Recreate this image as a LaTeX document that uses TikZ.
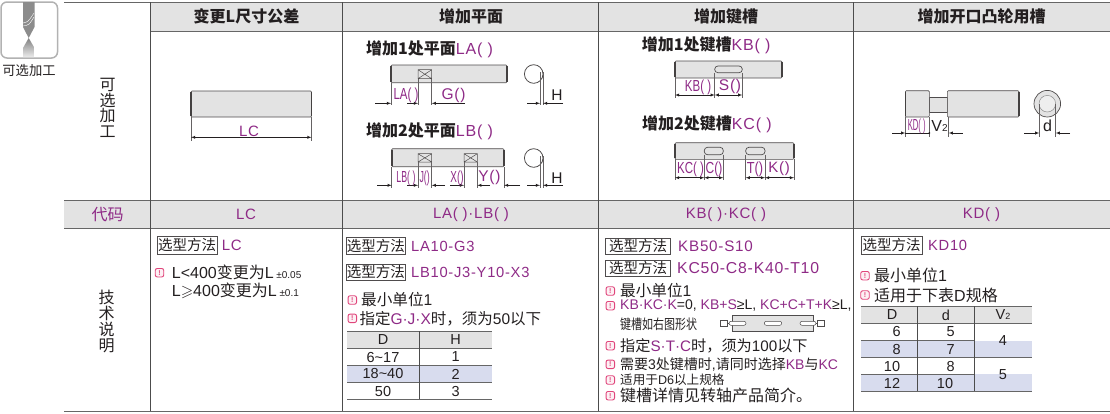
\documentclass[tikz,border=0pt]{standalone}
\usepackage{amssymb}
\usepackage{fontspec}
\setmainfont{Liberation Sans}
\newfontfamily\cjk{Noto Sans CJK SC}
\newfontfamily\latn[LetterSpace=5]{Liberation Sans}
\definecolor{ink}{HTML}{231F20}
\definecolor{plum}{HTML}{8E2A86}
\definecolor{band}{HTML}{E3E3E3}
\definecolor{lav}{HTML}{D8DCEE}
\definecolor{rose}{HTML}{E0457B}
\newcommand{\zh}[1]{{\cjk #1}}
\newcommand{\pl}[1]{{\color{plum}#1}}
\tikzset{
  txt/.style={inner sep=0pt,text=ink,font=\fontsize{#1}{#1}\selectfont},
  txt/.default=15,
  lft/.style={txt=#1,anchor=west},
  lft/.default=15,
  code/.style={inner sep=0pt,text=plum,font=\latn\fontsize{#1}{#1}\selectfont},
  code/.default=15,
  tight/.style={inner sep=0pt,text=plum,font=\fontsize{16}{16}\selectfont,xscale=#1},
  title/.style={inner sep=0pt,anchor=west,text=ink,font=\fontsize{16}{16}\selectfont\bfseries},
  head/.style={inner sep=0pt,text=ink,font=\cjk\fontsize{16}{16}\selectfont\bfseries},
  pickbox/.style={draw=ink!80,line width=.6pt,inner sep=0pt,anchor=west,text=ink,font=\cjk\fontsize{14.5}{14.5}\selectfont},
  notemark/.style={draw=rose,fill=rose!8,line width=.9pt,rounded corners=2pt,minimum size=8.5pt,inner sep=0pt,text=rose,font=\fontsize{7}{7}\selectfont\bfseries},
  pin/.style={draw=ink!80,fill=band,line width=.6pt},
  bar/.style={draw=ink!85,line width=1.6pt},
  ext/.style={draw=ink!70,line width=.45pt},
  dim/.style={draw=ink,line width=.45pt},
  rule/.style={draw=black!60,line width=1pt},
  vrule/.style={draw=black!70,line width=.7pt}
}
\begin{document}
\begin{tikzpicture}[x=1pt,y=-1pt,>=latex]
\useasboundingbox (0,0) rectangle (1110,413);
% icon
\draw[draw=black!30,fill=white,line width=1.5pt,rounded corners=6pt] (1,2) rectangle (57.5,58);
\fill[black!45] (23,2) -- (34.5,2) -- (34.5,27) -- (28.7,38) -- (23,27) -- cycle;
\draw[white,line width=.4pt] (23,23) .. controls (28,22) .. (34,13);
\draw[white,line width=.4pt] (23,26) .. controls (29,25) .. (34,17);
\shade[top color=black!50,bottom color=black!8] (28.7,38) -- (34.5,48) -- (34.5,57) -- (23,57) -- (23,48) -- cycle;
\node[txt=13,font=\cjk\fontsize{13.3}{13.3}\selectfont] (iconlabel) at (29,70) {可选加工};
% bands and table rules
\fill[band] (151,2) rectangle (1110,31);
\fill[band] (64,200) rectangle (1110,228.5);
\draw[rule] (64,2) -- (1110,2);
\draw[rule] (151,31) -- (1110,31);
\draw[rule] (64,200) -- (1110,200);
\draw[rule] (64,228.5) -- (1110,228.5);
\draw[rule] (64,411) -- (1110,411);
\draw[vrule] (150.5,2) -- (150.5,411);
\draw[vrule] (342,2) -- (342,411);
\draw[vrule] (598,2) -- (598,411);
\draw[vrule] (853,2) -- (853,411);
\node[head] (headLC) at (246.5,16) {变更L尺寸公差};
\node[head] (headflat) at (471,16) {增加平面};
\node[head] (headkey) at (726,16) {增加键槽};
\node[head] (headcam) at (981.5,16) {增加开口凸轮用槽};
\node[txt,font=\cjk\fontsize{16}{15.7}\selectfont,align=center] (rowopt) at (107.5,108) {可\\选\\加\\工};
\node[txt,font=\cjk\fontsize{16}{16}\selectfont,align=center] (rowtech) at (106.7,321) {技\\术\\说\\明};
\node[code=15,font=\cjk\fontsize{16}{16}\selectfont] (rowcode) at (107.5,214.5) {代码};
\node[code=15] (codeLC) at (246,214.5) {LC};
\node[code=15] (codeLA) at (471,214.5) {LA( )·LB( )};
\node[code=15] (codeKB) at (726,214.5) {KB( )·KC( )};
\node[code=15] (codeKD) at (981.5,214.5) {KD( )};
% column 1 pin
\draw[pin,rounded corners=1pt] (191,91) rectangle (311.5,117);
\draw[bar] (191,92) -- (191,116);
\draw[bar] (311.5,92) -- (311.5,116);
\draw[ext] (191,117) -- (191,141);
\draw[ext] (311.5,117) -- (311.5,141);
\draw[dim,<->] (191,137.3) -- (311.5,137.3);
\node[code=15] (dimLC) at (249,131) {LC};
% column 2, one flat
\node[title] (titleLA) at (366,49) {\zh{增加1处平面}\pl{\mdseries\latn LA( )}};
\draw[pin,rounded corners=1pt] (391,65) rectangle (507,82.7);
\draw[bar] (391,66) -- (391,82);
\draw[bar] (507,66) -- (507,82);
\draw[ink!80,fill=band,line width=.5pt] (418,69.7) rectangle (431.7,78.7) (418,69.7) -- (431.7,78.7) (418,78.7) -- (431.7,69.7);
\draw[ext] (391,83) -- (391,105);
\draw[ext] (418,79) -- (418,105);
\draw[ext] (431.7,79) -- (431.7,105);
\draw[dim,->] (375,103.3) -- (391,103.3);
\draw[dim,->] (407,103.3) -- (418,103.3);
\draw[dim,->] (465,103.3) -- (431.7,103.3);
\node[tight=.72] (dimLA) at (406,95.5) {LA( )};
\node[code=15.5] (dimG) at (453.5,95) {G()};
\draw[ink!80,line width=.8pt] (533.7,74) circle (9.3);
\draw[ext] (540,72) -- (540,105);
\draw[ext] (543,72) -- (543,105);
\draw[dim,->] (527,103.3) -- (540,103.3);
\draw[dim,->] (563,103.3) -- (543,103.3);
\node[txt=15.5] (dimH) at (557,95) {H};
% column 2, two flats
\node[title] (titleLB) at (366,131) {\zh{增加2处平面}\pl{\mdseries\latn LB( )}};
\draw[pin,rounded corners=1pt] (391.7,148.7) rectangle (504,166.7);
\draw[bar] (391.7,150) -- (391.7,166);
\draw[bar] (504,150) -- (504,166);
\draw[ink!80,fill=band,line width=.5pt] (418,153.7) rectangle (431.7,162) (418,153.7) -- (431.7,162) (418,162) -- (431.7,153.7);
\draw[ink!80,fill=band,line width=.5pt] (464,153.7) rectangle (477.3,162) (464,153.7) -- (477.3,162) (464,162) -- (477.3,153.7);
\draw[ext] (391.7,167) -- (391.7,188);
\draw[ext] (418,162) -- (418,188);
\draw[ext] (431.7,162) -- (431.7,188);
\draw[ext] (464,162) -- (464,188);
\draw[ext] (477.3,162) -- (477.3,188);
\draw[ext] (504,167) -- (504,188);
\draw[dim,->] (377,185.3) -- (391.7,185.3);
\draw[dim,->] (407,185.3) -- (418,185.3);
\draw[dim,->] (445,185.3) -- (431.7,185.3);
\draw[dim,->] (450,185.3) -- (464,185.3);
\draw[dim,->] (490,185.3) -- (477.3,185.3);
\draw[dim,->] (520,185.3) -- (504,185.3);
\node[tight=.55] (dimLB) at (406,178) {LB( )};
\node[tight=.55] (dimJ) at (424.7,178) {J()};
\node[tight=.62] (dimX) at (457,178) {X()};
\node[code=15.5] (dimY) at (489.5,177) {Y()};
\draw[ink!80,line width=.8pt] (533.7,158) circle (9.3);
\draw[ext] (540,156) -- (540,188);
\draw[ext] (543,156) -- (543,188);
\draw[dim,->] (527,185.3) -- (540,185.3);
\draw[dim,->] (563,185.3) -- (543,185.3);
\node[txt=15.5] (dimHb) at (557,178) {H};
% column 3, one keyway
\node[title] (titleKB) at (641.7,45.5) {\zh{增加1处键槽}\pl{\mdseries\latn KB( )}};
\draw[pin,rounded corners=1pt] (675,61) rectangle (782,78);
\draw[bar] (675,62) -- (675,77);
\draw[bar] (782,62) -- (782,77);
\draw[ink!80,fill=band,line width=.7pt,rounded corners=3.2pt] (714.7,66) rectangle (742.3,72.7);
\draw[ext] (675,78) -- (675,98);
\draw[ext] (714.7,72.7) -- (714.7,98);
\draw[ext] (742.3,72.7) -- (742.3,98);
\draw[dim,<->] (675,95) -- (714.7,95);
\draw[dim,<->] (714.7,95) -- (742.3,95);
\node[tight=.72] (dimKB) at (698,87) {KB( )};
\node[code=15.5] (dimS) at (730,86.5) {S()};
% column 3, two keyways
\node[title] (titleKC) at (642,124) {\zh{增加2处键槽}\pl{\mdseries\latn KC( )}};
\draw[pin,rounded corners=1pt] (675,142.7) rectangle (794,159.3);
\draw[bar] (675,144) -- (675,158);
\draw[bar] (794,144) -- (794,158);
\draw[ink!80,fill=band,line width=.7pt,rounded corners=3.2pt] (704.3,147.3) rectangle (723.3,154.7);
\draw[ink!80,fill=band,line width=.7pt,rounded corners=3.2pt] (745.7,147.3) rectangle (765,154.7);
\draw[ext] (675,159) -- (675,180);
\draw[ext] (704.3,154.7) -- (704.3,180);
\draw[ext] (723.3,154.7) -- (723.3,180);
\draw[ext] (745.7,154.7) -- (745.7,180);
\draw[ext] (765,154.7) -- (765,180);
\draw[ext] (794,159) -- (794,180);
\draw[dim,<->] (675,177.7) -- (704.3,177.7);
\draw[dim,<->] (704.3,177.7) -- (723.3,177.7);
\draw[dim,<->] (745.7,177.7) -- (765,177.7);
\draw[dim,<->] (765,177.7) -- (794,177.7);
\node[tight=.72] (dimKC) at (690.5,169) {KC( )};
\node[tight=.75] (dimC) at (714,169) {C()};
\node[tight=.8] (dimT) at (755,169) {T()};
\node[code=15] (dimK) at (779,168.5) {K()};
% column 4 pin
\draw[pin] (929.3,97.3) rectangle (947.3,112.7);
\draw[pin,rounded corners=1pt] (905.3,90.7) rectangle (929.3,117);
\draw[pin,rounded corners=1pt] (947.3,90.7) rectangle (1019,117);
\draw[bar] (905.3,92) -- (905.3,116);
\draw[bar] (1019,92) -- (1019,116);
\draw[ext] (905.3,117) -- (905.3,137);
\draw[ext] (929.3,117) -- (929.3,137);
\draw[ext] (948.7,117) -- (948.7,137);
\draw[dim,->] (892,133) -- (905.3,133);
\draw[dim,->] (962.7,133) -- (948.7,133);
\fill[ink] (929.3,133) circle (1);
\draw[dim] (905.3,133) -- (929.3,133);
\node[tight=.48] (dimKD) at (916.7,126.5) {KD( )};
\node[txt=16] (dimV) at (939.5,126) {V{\fontsize{10}{10}\selectfont 2}};
\draw[ink!80,fill=band,line width=.7pt] (1047.3,103.7) circle (13.3);
\draw[black!45,fill=band!60,line width=.5pt] (1047.3,103.7) circle (8.3);
\draw[ext] (1039.3,104) -- (1039.3,137);
\draw[ext] (1055.7,104) -- (1055.7,137);
\draw[dim,->] (1024,133) -- (1039.3,133);
\draw[dim,->] (1070,133) -- (1055.7,133);
\node[txt=16] (dimd) at (1047.5,126) {d};
% technical notes, column 1
\node[pickbox,minimum width=60pt,minimum height=17.3pt] (pickLC) at (156.7,245.3) {选型方法};
\node[code=15,anchor=west] (pickLCv) at (221.7,245.3) {LC};
\node[notemark] (noteLCa) at (159.5,272.7) {!};
\node[lft=16] (specLCa) at (171.7,272.7) {L<400\zh{变更为}L\,{\fontsize{10}{10}\selectfont ±0.05}};
\node[lft=16] (specLCb) at (171.7,291) {L$\geqslant$400\zh{变更为}L\,{\fontsize{10}{10}\selectfont ±0.1}};
% technical notes, column 2
\node[pickbox,minimum width=59pt,minimum height=16.6pt] (pickLA) at (346,246) {选型方法};
\node[code=14.7,anchor=west] (pickLAv) at (411,246) {LA10-G3};
\node[pickbox,minimum width=59pt,minimum height=16.6pt] (pickLB) at (346,272.3) {选型方法};
\node[code=14.7,anchor=west] (pickLBv) at (411,272.3) {LB10-J3-Y10-X3};
\node[notemark] (noteLAa) at (352.3,300) {!};
\node[lft=15.6] (specLAa) at (361,300) {\zh{最小单位}1};
\node[notemark] (noteLAb) at (352.3,318.3) {!};
\node[lft=15.5] (specLAb) at (359.3,318.3) {\zh{指定}\pl{G·J·X}\zh{时，须为}50\zh{以下}};
\fill[band] (347.3,331) rectangle (491.7,348.7);
\fill[lav] (347.3,365.3) rectangle (491.7,382.3);
\draw[rule] (347.3,331) -- (491.7,331);
\draw[rule] (347.3,348.7) -- (491.7,348.7);
\draw[rule] (347.3,365.3) -- (491.7,365.3);
\draw[rule] (347.3,382.3) -- (491.7,382.3);
\draw[rule] (347.3,399) -- (491.7,399);
\draw[vrule] (419.3,331) -- (419.3,399);
\node[txt=14.5] (tabDh) at (383,340) {D};
\node[txt=14.5] (tabHh) at (455.7,340) {H};
\node[txt=14.5] (tabDa) at (383,357) {6\textasciitilde 17};
\node[txt=14.5] (tabHa) at (455.7,357) {1};
\node[txt=14.5] (tabDb) at (383,374) {18\textasciitilde 40};
\node[txt=14.5] (tabHb) at (455.7,374) {2};
\node[txt=14.5] (tabDc) at (383,391) {50};
\node[txt=14.5] (tabHc) at (455.7,391) {3};
% technical notes, column 3
\node[pickbox,minimum width=65pt,minimum height=15.7pt] (pickKB) at (605.3,246.2) {选型方法};
\node[code=15.2,anchor=west] (pickKBv) at (678,246.2) {KB50-S10};
\node[pickbox,minimum width=65pt,minimum height=15.7pt] (pickKC) at (605.3,268) {选型方法};
\node[code=15.8,anchor=west] (pickKCv) at (677,268) {KC50-C8-K40-T10};
\node[notemark] (noteKa) at (610.3,291) {!};
\node[lft=15.6] (specKa) at (620,291) {\zh{最小单位}1};
\node[notemark] (noteKb) at (610.3,305.7) {!};
\node[lft=14] (specKb) at (620,305.7) {\pl{KB·KC·K}=0,\ \pl{KB+S}≥L,\ \pl{KC+C+T+K}≥L,};
\node[lft=11,yscale=1.25] (specKc) at (620,324.3) {\zh{键槽如右图形状}};
\draw[ink!80,line width=.5pt] (720.7,320) rectangle (727.3,326.7);
\draw[ink!80,line width=.5pt] (817,320) rectangle (824.3,326.7);
\draw[ink!80,line width=.5pt] (727.3,323.3) -- (732.3,323.3);
\draw[ink!80,line width=.5pt] (813,323.3) -- (817,323.3);
\draw[pin] (732.3,315) rectangle (813,331.7);
\draw[ink!80,fill=white,line width=.5pt,rounded corners=2pt] (729,321.3) rectangle (746,325.3);
\draw[ink!80,fill=white,line width=.5pt,rounded corners=2pt] (764.3,321.3) rectangle (781.7,325.3);
\draw[ink!80,fill=white,line width=.5pt,rounded corners=2pt] (800,321.3) rectangle (816,325.3);
\node[notemark] (noteKd) at (610.3,345.7) {!};
\node[lft=15.2] (specKd) at (620,345.7) {\zh{指定}\pl{S·T·C}\zh{时，须为}100\zh{以下}};
\node[notemark] (noteKe) at (610.3,364.3) {!};
\node[lft=14] (specKe) at (620,364.3) {\zh{需要}3\zh{处键槽时},\zh{请同时选择}\pl{KB}\zh{与}\pl{KC}};
\node[notemark] (noteKf) at (610.3,380) {!};
\node[lft=12.6] (specKf) at (620,380) {\zh{适用于}D6\zh{以上规格}};
\node[notemark] (noteKg) at (610.3,395.7) {!};
\node[lft=16] (specKg) at (620,395.7) {\zh{键槽详情见转轴产品简介。}};
% technical notes, column 4
\node[pickbox,minimum width=61pt,minimum height=18pt] (pickKD) at (860.7,245.2) {选型方法};
\node[code=14.7,anchor=west] (pickKDv) at (928,245.7) {KD10};
\node[notemark] (noteDa) at (865,275.7) {!};
\node[lft=16] (specDa) at (874,275.7) {\zh{最小单位}1};
\node[notemark] (noteDb) at (865,295) {!};
\node[lft=16] (specDb) at (874,295) {\zh{适用于下表}D\zh{规格}};
\fill[band] (861,306) rectangle (1031.7,323.3);
\fill[lav] (861,340.7) rectangle (1031.7,357.3);
\fill[lav] (861,374.3) rectangle (1031.7,391);
\draw[rule] (861,306) -- (1031.7,306);
\draw[rule] (861,323.3) -- (1031.7,323.3);
\draw[rule] (861,340.7) -- (974.3,340.7);
\draw[rule] (861,357.3) -- (1031.7,357.3);
\draw[rule] (861,374.3) -- (974.3,374.3);
\draw[rule] (861,391) -- (1031.7,391);
\draw[vrule] (917.7,306) -- (917.7,391);
\draw[vrule] (974.3,306) -- (974.3,391);
\node[txt=14.5] (tbDh) at (892,315) {D};
\node[txt=14.5] (tbdh) at (946,315) {d};
\node[txt=14.5] (tbVh) at (1003,315) {V{\fontsize{9}{9}\selectfont 2}};
\node[txt=14.5] (tbDa) at (896.7,332) {6};
\node[txt=14.5] (tbda) at (950.7,332) {5};
\node[txt=14.5] (tbDb) at (896.7,349.5) {8};
\node[txt=14.5] (tbdb) at (950.7,349.5) {7};
\node[txt=14.5] (tbDc) at (892,366) {10};
\node[txt=14.5] (tbdc) at (950.7,366) {8};
\node[txt=14.5] (tbDd) at (892,383) {12};
\node[txt=14.5] (tbdd) at (945,383) {10};
\node[txt=14.5] (tbVa) at (1003,341) {4};
\node[txt=14.5] (tbVb) at (1003,374.5) {5};
\end{tikzpicture}
\end{document}
